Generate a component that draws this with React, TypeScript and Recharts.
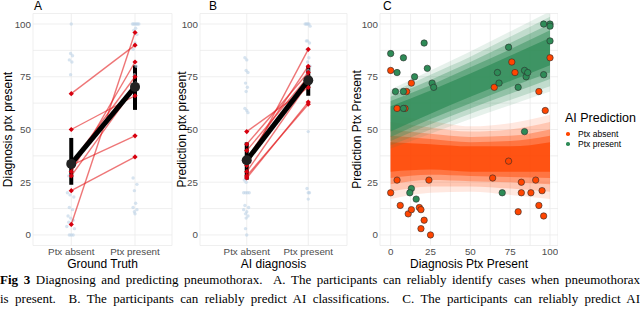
import React from 'react';
import { ComposedChart, Scatter, Area, XAxis, YAxis, CartesianGrid, ErrorBar } from 'recharts';

const GROUPS = ['Ptx absent', 'Ptx present'];
const Y_TICKS = [0, 12.5, 25, 37.5, 50, 62.5, 75, 87.5, 100];

// Panel A: diagnosis by ground truth (jittered raw answers, x = group + jitter)
const diagRaw: number[][] = [
  [1.0, 100], [0.99, 86], [1.02, 85], [0.97, 83], [1.01, 82], [0.99, 76], [1.02, 35], [0.96, 28],
  [0.94, 20], [0.98, 19], [1.04, 18], [0.97, 13], [1.02, 12], [0.95, 9], [0.99, 8], [1.03, 7],
  [0.96, 6], [1.0, 5], [0.93, 4], [1.05, 3], [0.97, 0], [1.0, 0], [1.03, 0],
  [1.96, 100], [1.98, 100], [2.0, 100], [2.02, 100], [2.04, 100], [2.06, 100], [2.01, 98], [1.98, 97],
  [2.03, 95], [2.0, 91], [1.97, 88], [2.02, 80], [1.99, 76], [2.01, 72], [1.97, 27], [2.03, 24],
  [1.99, 21], [2.01, 15], [1.97, 13], [2.03, 12], [1.99, 11], [2.0, 10],
];
const diagAbsent = [67, 50, 34, 33, 30, 28, 21, 5];
const diagPresent = [90, 66, 75, 47, 82, 70, 37, 96];
const diagMean = [33.7, 70.2];
const diagLow = [23.8, 59.3];
const diagHigh = [46, 80.4];

// Panel B: prediction by AI diagnosis
const predRaw: number[][] = [
  [0.97, 84], [1.0, 83], [0.99, 78], [1.02, 77], [0.98, 72], [1.01, 70], [0.99, 68], [0.97, 60],
  [1.0, 59], [1.02, 58], [0.96, 26], [0.99, 25], [0.95, 20], [0.98, 20], [1.01, 20], [1.04, 20],
  [0.97, 14], [1.03, 13], [0.95, 12], [1.0, 11], [0.98, 10], [1.02, 9], [0.99, 8], [0.98, 3], [1.0, 0],
  [1.95, 100], [1.97, 100], [1.99, 100], [2.01, 100], [2.03, 99], [1.97, 92], [1.99, 92], [2.02, 91],
  [1.98, 88], [2.01, 84], [1.99, 82], [2.03, 80], [2.0, 78], [1.98, 76], [2.0, 49], [1.98, 22],
  [2.0, 20], [2.02, 20], [2.0, 17],
];
const predAbsent = [49, 43, 40, 36, 33, 30, 28, 27];
const predPresent = [70, 77, 75, 80, 88, 72, 62, 63];
const predMean = [35.4, 73.3];
const predLow = [26.2, 66];
const predHigh = [43.9, 80.2];

// Panel C: prediction vs diagnosis, coloured by AI prediction
const cAbsent: number[][] = [
  [0, 78], [4, 60], [9, 60], [10, 68], [13, 72], [0, 20], [4, 26], [6, 14], [11, 10], [13, 12],
  [18, 13], [19, 12], [21, 7], [19, 3], [25, 0], [24, 26], [65, 70], [76, 82], [78, 77], [64, 27],
  [74, 35], [82, 25], [82, 20], [88, 20], [80, 11], [91, 26], [93, 14], [93, 68], [95, 21], [96, 9],
  [97, 59], [100, 84],
];
const cPresent: number[][] = [
  [0, 86], [3, 68], [4, 77], [8, 84], [8, 68], [8, 60], [15, 75], [21, 91], [23, 79], [26, 72],
  [27, 70], [13, 22], [12, 20], [16, 17], [67, 77], [68, 72], [74, 89], [80, 70], [84, 78], [85, 75],
  [86, 77], [84, 49], [70, 20], [96, 100], [100, 100], [100, 99], [100, 92], [96, 76],
];

// fitted ribbons: centre line and half widths of each interval (outer to inner)
const bandX = [0, 25, 50, 75, 100];
const presentCentre = [55, 63, 71, 79, 87];
const presentSpread = [
  [14, 15, 16, 17.5, 19],
  [12.5, 13, 13.5, 15, 16.5],
  [10.5, 10.5, 11, 12, 13],
  [8.5, 8, 8.5, 9, 10],
  [6, 5.5, 5.5, 6, 6.5],
];
const absentCentre = [37, 37, 36, 36, 37];
const absentSpread = [
  [20, 17, 15.5, 17, 20],
  [16.5, 14, 13, 14, 16.5],
  [13, 11, 10.5, 11, 13],
  [10, 8.5, 8, 8.5, 10],
  [7, 6, 6, 6, 7],
];
const LAYER_OPACITY = [0.12, 0.2, 0.32, 0.45, 0.7];

const ORANGE = '#ff4500';
const GREEN = '#2e8b57';

const bandRows = bandX.map((x, i) => {
  const row: any = { x };
  absentSpread.forEach((s, k) => { row['a' + k] = [absentCentre[i] - s[i], absentCentre[i] + s[i]]; });
  presentSpread.forEach((s, k) => { row['p' + k] = [presentCentre[i] - s[i], presentCentre[i] + s[i]]; });
  return row;
});

const tickStyle = { fontSize: 9.8, fill: '#4d4d4d' };
const titleStyle = { fontSize: 12, fill: '#000' };
const yFormat = (v: number) => (v % 25 === 0 ? String(v) : '');

const RawDot = (props: any) => (
  <circle cx={props.cx} cy={props.cy} r={1.7} fill="#bcd2e6" fillOpacity={0.6} />
);
const RedMark = (props: any) => {
  const { cx, cy } = props;
  const s = 2.6;
  return <path d={`M${cx},${cy - s}L${cx + s},${cy}L${cx},${cy + s}L${cx - s},${cy}Z`} fill="#d7000f" />;
};
const MeanDot = (props: any) => <circle cx={props.cx} cy={props.cy} r={5} fill="#222" />;
const makeDot = (fill: string) => (props: any) => (
  <circle cx={props.cx} cy={props.cy} r={3.2} fill={fill} stroke="#2b2b2b" strokeWidth={0.6} />
);

interface PairProps {
  left: number;
  width: number;
  axisWidth: number;
  marginRight: number;
  domain: number[];
  labelOffset: number;
  raw: number[][];
  absent: number[];
  present: number[];
  mean: number[];
  low: number[];
  high: number[];
  yLabel: string;
  xLabel: string;
}

const PairPanel = (p: PairProps) => {
  const rawData = p.raw.map(([x, y]) => ({ x, y }));
  const meanData = p.mean.map((m, i) => ({ x: i + 1, y: m, err: [m - p.low[i], p.high[i] - m] }));
  return (
    <div style={{ position: 'absolute', left: p.left, top: 0 }}>
      <ComposedChart width={p.width} height={275} margin={{ top: 13.5, right: p.marginRight, bottom: 0, left: 0 }}>
        <CartesianGrid stroke="#ebebeb" strokeWidth={0.8} />
        <XAxis
          type="number"
          dataKey="x"
          domain={p.domain}
          allowDataOverflow
          ticks={[1, 2]}
          interval={0}
          tickFormatter={(v) => GROUPS[Math.round(v) - 1]}
          tick={tickStyle}
          tickLine={false}
          axisLine={false}
          tickSize={0}
          tickMargin={3}
          height={29.5}
          label={{ value: p.xLabel, position: 'insideBottom', offset: 7.5, style: titleStyle }}
        />
        <YAxis
          type="number"
          dataKey="y"
          domain={[-5, 105]}
          allowDataOverflow
          ticks={Y_TICKS}
          interval={0}
          tickFormatter={yFormat}
          tick={tickStyle}
          tickLine={false}
          axisLine={false}
          tickSize={0}
          tickMargin={2}
          width={p.axisWidth}
          label={{ value: p.yLabel, angle: -90, position: 'insideLeft', offset: p.labelOffset, style: { ...titleStyle, textAnchor: 'middle' } }}
        />
        <Scatter data={rawData} shape={RawDot} isAnimationActive={false} />
        {p.absent.map((a, i) => (
          <Scatter
            key={i}
            data={[{ x: 1, y: a }, { x: 2, y: p.present[i] }]}
            line={{ stroke: '#e31a1c', strokeOpacity: 0.6, strokeWidth: 1.4 }}
            shape={RedMark}
            isAnimationActive={false}
          />
        ))}
        <Scatter data={meanData} line={{ stroke: '#000', strokeWidth: 5 }} shape={MeanDot} isAnimationActive={false}>
          <ErrorBar dataKey="err" width={0} strokeWidth={4} stroke="#000" direction="y" />
        </Scatter>
      </ComposedChart>
    </div>
  );
};

const PanelC = () => (
  <div style={{ position: 'absolute', left: 340, top: 0 }}>
    <ComposedChart width={218} height={275} data={bandRows} margin={{ top: 13.5, right: 0, bottom: 0, left: 0 }}>
      <CartesianGrid stroke="#ebebeb" strokeWidth={0.8} />
      <XAxis
        type="number"
        dataKey="x"
        domain={[-6.7, 105]}
        allowDataOverflow
        ticks={Y_TICKS}
        interval={0}
        tickFormatter={yFormat}
        tick={tickStyle}
        tickLine={false}
        axisLine={false}
        tickSize={0}
        tickMargin={3}
        height={29.5}
        label={{ value: 'Diagnosis Ptx Present', position: 'insideBottom', offset: 7.5, style: titleStyle }}
      />
      <YAxis
        type="number"
        dataKey="y"
        domain={[-5, 105]}
        allowDataOverflow
        ticks={Y_TICKS}
        interval={0}
        tickFormatter={yFormat}
        tick={tickStyle}
        tickLine={false}
        axisLine={false}
        tickSize={0}
        tickMargin={2}
        width={40}
        label={{ value: 'Prediction Ptx Present', angle: -90, position: 'insideLeft', offset: 16.7, style: { ...titleStyle, textAnchor: 'middle' } }}
      />
      {absentSpread.map((_, k) => (
        <Area key={'a' + k} dataKey={'a' + k} type="monotone" stroke="none" fill={ORANGE} fillOpacity={LAYER_OPACITY[k]} dot={false} activeDot={false} isAnimationActive={false} />
      ))}
      {presentSpread.map((_, k) => (
        <Area key={'p' + k} dataKey={'p' + k} type="monotone" stroke="none" fill={GREEN} fillOpacity={LAYER_OPACITY[k]} dot={false} activeDot={false} isAnimationActive={false} />
      ))}
      <Scatter data={cAbsent.map(([x, y]) => ({ x, y }))} shape={makeDot(ORANGE)} isAnimationActive={false} />
      <Scatter data={cPresent.map(([x, y]) => ({ x, y }))} shape={makeDot(GREEN)} isAnimationActive={false} />
    </ComposedChart>
  </div>
);

const panelTag = (left: number): React.CSSProperties => ({
  position: 'absolute', left, top: 0, fontSize: 12, lineHeight: '12px', color: '#000',
});

const LEGEND = [
  { label: 'Ptx absent', color: ORANGE },
  { label: 'Ptx present', color: GREEN },
];

export default function App() {
  return (
    <div style={{ position: 'relative', width: 640, height: 315, overflow: 'hidden', background: '#fff', fontFamily: '"Liberation Sans", Arial, sans-serif' }}>
      <style>{'body{margin:0}'}</style>
      <PairPanel
        left={0} width={176} axisWidth={33} marginRight={4} domain={[0.4, 2.58]} labelOffset={8}
        raw={diagRaw} absent={diagAbsent} present={diagPresent}
        mean={diagMean} low={diagLow} high={diagHigh}
        yLabel="Diagnosis ptx present" xLabel="Ground Truth"
      />
      <PairPanel
        left={160} width={190} axisWidth={40} marginRight={3} domain={[0.24, 2.63]} labelOffset={21.7}
        raw={predRaw} absent={predAbsent} present={predPresent}
        mean={predMean} low={predLow} high={predHigh}
        yLabel="Prediction ptx present" xLabel="AI diagnosis"
      />
      <PanelC />
      <div style={panelTag(34)}>A</div>
      <div style={panelTag(209)}>B</div>
      <div style={panelTag(383)}>C</div>

      {/* legend for panel C */}
      <div style={{ position: 'absolute', left: 565, top: 111 }}>
        <div style={{ fontSize: 12.5, lineHeight: '14px' }}>AI Prediction</div>
        <div style={{ marginTop: 4 }}>
          {LEGEND.map((item) => (
            <div key={item.label} style={{ display: 'flex', alignItems: 'center', fontSize: 8.5, lineHeight: '10px', height: 10 }}>
              <span style={{ display: 'inline-block', width: 3.6, height: 3.6, borderRadius: '50%', background: item.color, marginLeft: 1.3, marginRight: 8.2 }} />
              {item.label}
            </div>
          ))}
        </div>
      </div>

      {/* caption */}
      <div style={{ position: 'absolute', left: 0, top: 270, width: 640, fontFamily: '"Liberation Serif", "Times New Roman", serif', fontSize: 13, lineHeight: '19px', color: '#000' }}>
        <div style={{ textAlign: 'justify', textAlignLast: 'justify' }}>
          <b>Fig 3</b> Diagnosing and predicting pneumothorax.&nbsp; A. The participants can reliably identify cases when pneumothorax
        </div>
        <div style={{ textAlign: 'justify', textAlignLast: 'justify' }}>
          is present.&nbsp; B. The participants can reliably predict AI classifications.&nbsp; C. The participants can reliably predict AI
        </div>
      </div>
    </div>
  );
}
